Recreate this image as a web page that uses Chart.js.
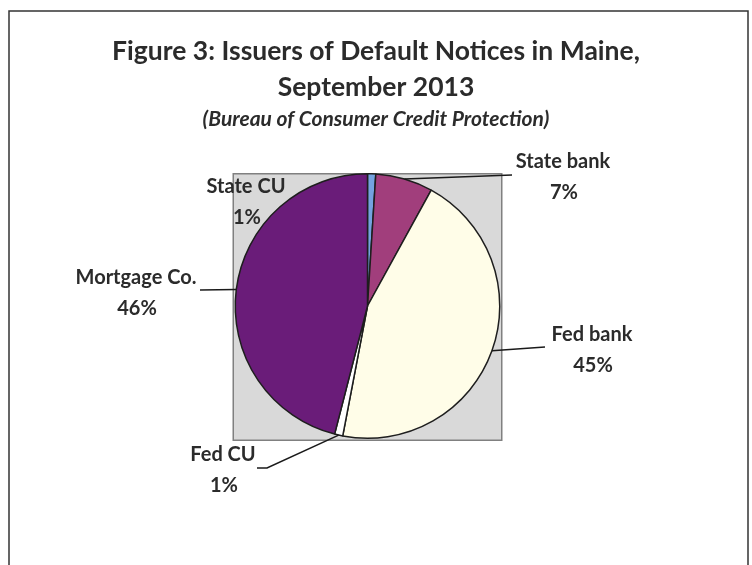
<!DOCTYPE html>
<html>
<head>
<meta charset="utf-8">
<script src="https://cdn.jsdelivr.net/npm/chart.js@4/dist/chart.umd.min.js"></script>
<style>
  body { margin: 0; background: #fff; }
  canvas { display: block; }
</style>
</head>
<body>
<canvas id="myPieChart" width="752" height="565"></canvas>
<script>
const categories = ['State CU', 'State bank', 'Fed bank', 'Fed CU', 'Mortgage Co.'];
const shares = [1, 7, 45, 1, 46]; // percent of notices
const sliceColors = ['#74a3e0', '#a13e7c', '#fffde8', '#ffffff', '#6a1c79'];

const titleLines = ['Figure 3: Issuers of Default Notices in Maine,', 'September 2013'];
const subtitleText = '(Bureau of Consumer Credit Protection)';

// where each label sits and where its leader line ends (null = no line)
const labelSpots = [
    { x: 246, y: 187, line: null },
    { x: 563, y: 162, line: [[512, 175]] },
    { x: 592, y: 335, line: [[545, 347]] },
    { x: 223, y: 455, line: [[267, 468], [257, 468]] },
    { x: 136, y: 278, line: [[200, 290]] }
];

const textColor = '#2b2b2b';
const fontName = 'Lato, "Liberation Sans", sans-serif';

const pieDecor = {
    id: 'pieDecor',
    beforeDraw(chart) {
        const c = chart.ctx;
        c.save();
        // outer frame (open at the bottom)
        c.strokeStyle = '#333';
        c.lineWidth = 1.5;
        c.beginPath();
        c.moveTo(9, 565);
        c.lineTo(9, 11);
        c.lineTo(748, 11);
        c.lineTo(748, 565);
        c.stroke();

        // titles
        c.fillStyle = textColor;
        c.textAlign = 'center';
        c.textBaseline = 'middle';
        c.font = 'bold 26.5px ' + fontName;
        c.fillText(titleLines[0], 376, 51);
        c.fillText(titleLines[1], 376, 87);
        c.font = 'italic bold 21px ' + fontName;
        c.fillText(subtitleText, 376, 119);

        // grey plot area behind the pie
        const arc = chart.getDatasetMeta(0).data[0];
        const r = arc.outerRadius;
        c.fillStyle = '#d9d9d9';
        c.fillRect(arc.x - r - 2, arc.y - r, 2 * r + 4, 2 * r + 2);
        c.strokeStyle = '#808080';
        c.lineWidth = 1.5;
        c.strokeRect(arc.x - r - 2, arc.y - r, 2 * r + 4, 2 * r + 2);
        c.restore();
    },
    afterDatasetsDraw(chart) {
        const c = chart.ctx;
        const meta = chart.getDatasetMeta(0);
        c.save();
        c.strokeStyle = '#1a1a1a';
        c.lineWidth = 1.5;
        meta.data.forEach((arc, i) => {
            const spot = labelSpots[i];
            if (spot.line) {
                const mid = (arc.startAngle + arc.endAngle) / 2;
                c.beginPath();
                c.moveTo(arc.x + Math.cos(mid) * arc.outerRadius, arc.y + Math.sin(mid) * arc.outerRadius);
                spot.line.forEach(p => c.lineTo(p[0], p[1]));
                c.stroke();
            }
        });
        c.fillStyle = textColor;
        c.textAlign = 'center';
        c.textBaseline = 'middle';
        c.font = 'bold 20px ' + fontName;
        meta.data.forEach((arc, i) => {
            const spot = labelSpots[i];
            c.fillText(categories[i], spot.x, spot.y);
            c.fillText(shares[i] + '%', spot.x + 1, spot.y + 31);
        });
        c.restore();
    }
};

const ctx = document.getElementById('myPieChart').getContext('2d');
const myPieChart = new Chart(ctx, {
    type: 'pie',
    data: {
        labels: categories,
        datasets: [{
            data: shares,
            backgroundColor: sliceColors,
            borderColor: '#1e1e1e',
            borderWidth: 1.5
        }]
    },
    options: {
        responsive: false,
        animation: false,
        layout: { padding: { left: 234, right: 251, top: 173, bottom: 126 } },
        plugins: {
            legend: { display: false },
            tooltip: { enabled: false }
        }
    },
    plugins: [pieDecor]
});
</script>
</body>
</html>
